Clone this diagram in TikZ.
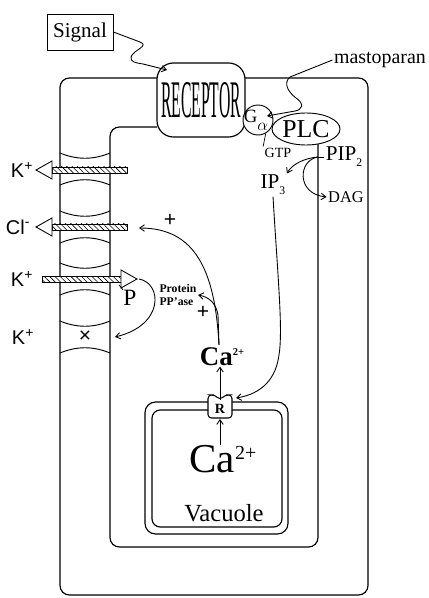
\documentclass[tikz,border=0pt]{standalone}
\usepackage{fontspec}
\setmainfont{Liberation Serif}
\setsansfont{Liberation Sans}
\usepackage{graphicx}
\usetikzlibrary{arrows.meta, patterns.meta, shapes.geometric, positioning, calc}

\begin{document}
\begin{tikzpicture}[x=0.03cm, y=-0.03cm, line width=0.8pt]
    \tikzset{
  wall/.style={line width=1pt, rounded corners=8pt},
  sigarrow/.style={-{Straight Barb[length=4pt, width=5.5pt]}, line width=0.75pt},
  shaft/.style={draw, line width=0.6pt, preaction={fill=white},
                pattern={Lines[angle=-45, distance=3.2pt, line width=0.5pt]}},
  openhead/.style={draw, fill=white, line width=0.75pt},
  ionlab/.style={font=\sffamily\fontsize{17}{17}\selectfont},
  pluslab/.style={font=\sffamily\fontsize{18}{18}\selectfont},
  molab/.style={inner sep=1pt, font=\fontsize{18}{18}\selectfont},
}
\useasboundingbox (0,0) rectangle (429,598);

% ── Cell wall and membrane ──────────────────────────────────
\draw[wall] (157,78) -- (60,78) -- (60,595) -- (368,595) -- (368,78) -- (245,78);
\draw[wall] (318,140) -- (318,547) -- (110,547) -- (110,127) -- (157,127);

% ── Channel subunits ────────────────────────────────────────
\foreach \yc in {169,227,279,337} {
  \draw (60,\yc-16) .. controls (77,\yc-9) and (93,\yc-9) .. (110,\yc-16);
  \draw (60,\yc+16) .. controls (77,\yc+9) and (93,\yc+9) .. (110,\yc+16);
}

% K+ efflux
\draw[shaft] (52,167) rectangle (127,173);
\draw[openhead] (52,161) -- (36,170) -- (52,179) -- cycle;
\node[ionlab] (kout) at (22,170) {K\textsuperscript{+}};

% Cl- efflux
\draw[shaft] (52,224) rectangle (127,230);
\draw[openhead] (52,218) -- (36,227) -- (52,236) -- cycle;
\node[ionlab] (clout) at (18,227) {Cl\textsuperscript{-}};

% K+ influx (phosphorylated)
\draw[shaft] (42,276) rectangle (121,282);
\draw[openhead] (121,270) -- (137,279) -- (121,288) -- cycle;
\node[ionlab] (kin) at (22,279) {K\textsuperscript{+}};
\node[font=\fontsize{20}{20}\selectfont, inner sep=0] (phos) at (130,298) {P};
\draw[line width=0.6pt] (phos.north west) -- ++(-4,-5);

% blocked K+ channel
\node[ionlab] (kblock) at (23,337) {K\textsuperscript{+}};
\node[font=\sffamily\fontsize{18}{18}\selectfont] (block) at (85,337) {×};

% ── Signal and receptor ─────────────────────────────────────
\node[draw, fill=white, line width=0.7pt, minimum width=1.98cm, minimum height=1.08cm,
      font=\fontsize{18}{18}\selectfont] (signal) at (80,32) {Signal};
\node[draw, fill=white, line width=1pt, rounded corners=14pt, minimum width=2.64cm,
      minimum height=2.22cm, inner sep=0] (receptor) at (201,100)
      {\resizebox{2.4cm}{1.05cm}{RECEPTOR}};
\coordinate (recin) at (167,70);
\draw[sigarrow] (signal.east) -- (140,42) .. controls (150,46) and (133,50) .. (131,57)
  .. controls (130,62) and (136,63) .. (143,64) -- (recin);

% ── G protein and PLC ───────────────────────────────────────
\node[ellipse, draw, fill=white, minimum width=2.04cm, minimum height=0.96cm, inner sep=0,
      font=\fontsize{22}{22}\selectfont] (plc) at (306,129) {PLC};
\node[circle, draw, fill=white, minimum size=0.9cm, inner sep=0] (galpha) at (258,120) {};
\node[font=\fontsize{16}{16}\selectfont, inner sep=0] (glab) at (256,120)
  {G\raisebox{-7pt}{\fontsize{14}{14}\selectfont$\alpha$}};
\node[font=\fontsize{12}{12}\selectfont, inner sep=1pt] (gtp) at (278,153) {GTP};
\draw[line width=0.6pt] (galpha.-60) -- (gtp.north west);

\node[font=\fontsize{17}{17}\selectfont, inner sep=1pt] (masto) at (380,60) {mastoparan};
\coordinate (gin) at (267,116);
\draw[sigarrow] (masto.west) -- (290,77) .. controls (283,83) and (288,92) .. (296,98)
  .. controls (305,104) and (302,110) .. (295,111) -- (gin);

% ── Second messengers ───────────────────────────────────────
\node[molab] (pip) at (344,157) {PIP\raisebox{-5pt}{\fontsize{10}{10}\selectfont 2}};
\node[molab] (ip3) at (273,185) {IP\raisebox{-5pt}{\fontsize{10}{10}\selectfont 3}};
\node[font=\fontsize{14}{14}\selectfont, inner sep=1pt] (dag) at (346,197) {DAG};
\coordinate (pipfork) at (318,157);
\draw (pipfork) -- (pip.west);
\draw[sigarrow] (pipfork) .. controls (305,158) and (292,164) .. (ip3.north east);
\draw[sigarrow] (pipfork) .. controls (298,160) and (296,194) .. (dag.west);

% ── Vacuole ─────────────────────────────────────────────────
\draw[line width=1pt, rounded corners=9pt, fill=white] (145,402) rectangle (288,534);
\draw[line width=1pt, rounded corners=7pt] (152,410) rectangle (282,527);
\coordinate (rc) at (220,406);
\draw[fill=white, line width=0.9pt, rounded corners=3pt]
  (208,395) -- (215,395) -- (220,400) -- (225,395) -- (232,395) -- (232,418) -- (208,418) -- cycle;
\node[font=\bfseries\fontsize{12}{12}\selectfont, inner sep=0] (rlab) at (220,409) {R};
\coordinate (rnotch) at (220,400);
\coordinate (rbot) at (220,419);
\coordinate (rhit) at (236,398);

\node[font=\fontsize{35}{35}\selectfont, inner sep=0] (cavac) at (223,459)
  {Ca\raisebox{11pt}{\fontsize{17}{17}\selectfont 2+}};
\node[font=\fontsize{21}{21}\selectfont] (vaclab) at (224,513) {Vacuole};
\draw[sigarrow] (cavac.north -| rc) -- (rbot);

% ── Cytosolic Ca2+ and its targets ──────────────────────────
\node[font=\bfseries\fontsize{23}{23}\selectfont, inner sep=0] (cacyt) at (222,357)
  {Ca\raisebox{9pt}{\fontsize{9}{9}\selectfont 2+}};
\draw[sigarrow] (rnotch) -- (cacyt.south -| rc);
\draw[sigarrow] (ip3.south) .. controls (278,280) and (283,330) .. (279,355)
  .. controls (275,385) and (255,395) .. (rhit);

\node[font=\bfseries\fontsize{10}{11}\selectfont, align=left, inner sep=1pt] (ppase) at (178,295)
  {Protein\\PP'ase};
\coordinate (catop) at (219,345);
\coordinate (clhit) at (139,228);
\coordinate (kinhead) at (139,279);
\coordinate (xhit) at (115,337);
\draw[sigarrow] (catop) -- (218,315) .. controls (216,303) and (209,297) .. (ppase.east);
\draw[sigarrow] (catop) .. controls (215,270) and (195,228) .. (clhit);
\draw[sigarrow] (kinhead) .. controls (162,283) and (165,325) .. (xhit);
\node[pluslab] (plusa) at (170,220) {+};
\node[pluslab] (plusb) at (203,312) {+};

  \end{tikzpicture}
\end{document}
